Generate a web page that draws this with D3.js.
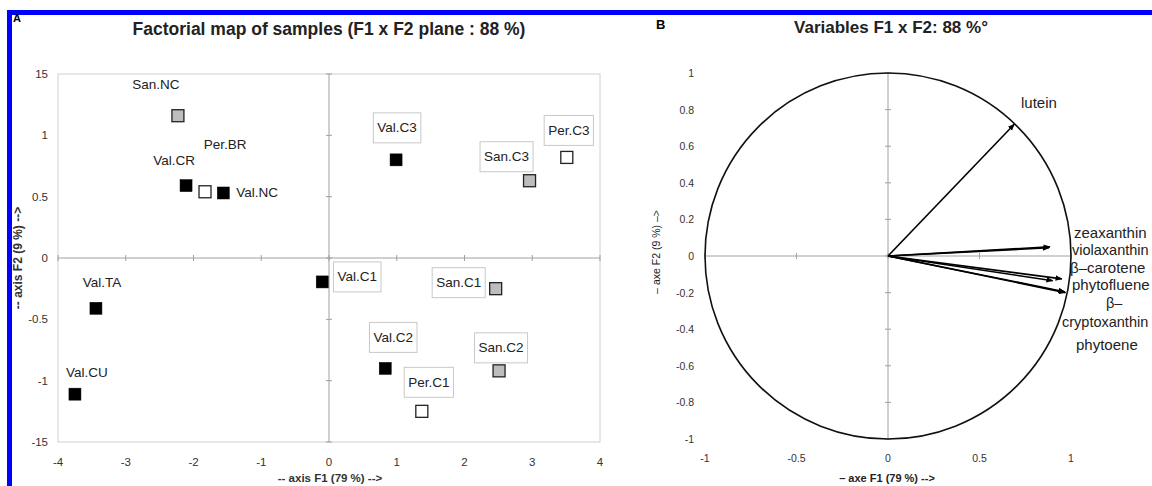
<!DOCTYPE html>
<html>
<head>
<meta charset="utf-8">
<script src="https://cdn.jsdelivr.net/npm/d3@7"></script>
<style>
  body { margin: 0; background: #fff; }
  svg { font-family: "Liberation Sans", Arial, sans-serif; }
</style>
</head>
<body>
<div id="chart"></div>
<script>
// ---- data: panel A (samples)
let sampleNames = ['San.NC', 'Val.CR', 'Per.BR', 'Val.NC', 'Val.C3', 'San.C3', 'Per.C3',
    'Val.C1', 'San.C1', 'Val.C2', 'San.C2', 'Per.C1', 'Val.TA', 'Val.CU'];
let sampleF1 = [-2.23, -2.11, -1.83, -1.56, 0.99, 2.96, 3.51, -0.10, 2.46, 0.83, 2.51, 1.37, -3.44, -3.75];
let sampleF2 = [1.16, 0.59, 0.54, 0.53, 0.80, 0.63, 0.82, -0.195, -0.25, -0.90, -0.92, -1.25, -0.41, -1.11];
let sampleGroup = ['San', 'Val', 'Per', 'Val', 'Val', 'San', 'Per', 'Val', 'San', 'Val', 'San', 'Per', 'Val', 'Val'];
let xTicksA = [-4, -3, -2, -1, 0, 1, 2, 3, 4];
let yTicksA = [1.5, 1, 0.5, 0, -0.5, -1, -1.5];
let yTickLabelsA = ['15', '1', '0.5', '0', '-0.5', '-1', '-15'];

// ---- data: panel B (variables)
let varNames = ['lutein', 'zeaxanthin', 'violaxanthin', '\u03b2\u2013carotene', 'phytofluene', '\u03b2\u2013cryptoxanthin', 'phytoene'];
let varF1 = [0.69, 0.885, 0.88, 0.95, 0.90, 0.965, 0.97];
let varF2 = [0.72, 0.05, 0.045, -0.125, -0.135, -0.195, -0.20];
let xTicksB = [-1, -0.5, 0, 0.5, 1];
let yTicksB = [1, 0.8, 0.6, 0.4, 0.2, 0, -0.2, -0.4, -0.6, -0.8, -1];

// layout: label placement relative to the marker (dx, dy of label centre, boxed or not)
let labelLayout = {
    'San.NC': [-22, -31, false], 'Val.CR': [-12, -25, false], 'Per.BR': [20, -47, false],
    'Val.NC': [13, 0, false, 'start'], 'Val.C3': [1, -32, true], 'San.C3': [-23, -24, true],
    'Per.C3': [2, -27, true], 'Val.C1': [35, -5, true], 'San.C1': [-37, -6, true],
    'Val.C2': [8, -31, true], 'San.C2': [2, -23, true], 'Per.C1': [7, -29, true],
    'Val.TA': [6, -26, false], 'Val.CU': [12, -22, false]
};
let groupFill = { Val: '#000', San: '#bdbdbd', Per: '#fff' };

let W = 1152, H = 486;
let svg = d3.select('#chart').append('svg').attr('width', W).attr('height', H);

// blue frame
svg.append('rect').attr('x', 7).attr('y', 10).attr('width', W - 7).attr('height', 5).attr('fill', '#0000ff');
svg.append('rect').attr('x', 7).attr('y', 10).attr('width', 5).attr('height', H - 10).attr('fill', '#0000ff');

// ================= Panel A =================
let xA = d3.scaleLinear().domain([-4, 4]).range([58, 600]);
let yA = d3.scaleLinear().domain([-1.5, 1.5]).range([442, 74]);

svg.append('text').attr('x', 13).attr('y', 22).attr('font-size', 11).attr('font-weight', 'bold').text('A');
svg.append('text').attr('x', 329).attr('y', 35).attr('text-anchor', 'middle')
    .attr('font-size', 17.5).attr('font-weight', 'bold').attr('fill', '#222')
    .text('Factorial map of samples (F1 x F2 plane : 88 %)');

svg.append('rect').attr('x', xA(-4)).attr('y', yA(1.5))
    .attr('width', xA(4) - xA(-4)).attr('height', yA(-1.5) - yA(1.5))
    .attr('fill', 'none').attr('stroke', '#d0d0d0');

// zero axes with tick marks
let gA = svg.append('g');
gA.append('line').attr('x1', xA(-4)).attr('x2', xA(4)).attr('y1', yA(0)).attr('y2', yA(0)).attr('stroke', '#a0a0a0');
gA.append('line').attr('x1', xA(0)).attr('x2', xA(0)).attr('y1', yA(1.5)).attr('y2', yA(-1.5)).attr('stroke', '#a0a0a0');
gA.selectAll('.xt').data(xTicksA).enter().append('line')
    .attr('x1', d => xA(d)).attr('x2', d => xA(d)).attr('y1', yA(0) - 3).attr('y2', yA(0) + 3).attr('stroke', '#a0a0a0');
gA.selectAll('.yt').data(yTicksA).enter().append('line')
    .attr('x1', xA(0) - 3).attr('x2', xA(0) + 3).attr('y1', d => yA(d)).attr('y2', d => yA(d)).attr('stroke', '#a0a0a0');

gA.selectAll('.xl').data(xTicksA).enter().append('text')
    .attr('x', d => xA(d)).attr('y', 466).attr('text-anchor', 'middle')
    .attr('font-size', 11.5).attr('fill', '#333').text(d => d);
gA.selectAll('.yl').data(yTicksA).enter().append('text')
    .attr('x', 48).attr('y', d => yA(d) + 4).attr('text-anchor', 'end')
    .attr('font-size', 11.5).attr('fill', '#333').text((d, i) => yTickLabelsA[i]);

svg.append('text').attr('x', 330).attr('y', 482).attr('text-anchor', 'middle')
    .attr('font-size', 11.5).attr('font-weight', 'bold').attr('fill', '#333').text('-- axis F1 (79 %) -->');
svg.append('text').attr('transform', 'translate(22,' + 258 + ') rotate(-90)').attr('text-anchor', 'middle')
    .attr('font-size', 12).attr('font-weight', 'bold').attr('fill', '#333').text('-- axis F2 (9 %) -->');

// markers
let samples = sampleNames.map((n, i) => ({ name: n, x: sampleF1[i], y: sampleF2[i], g: sampleGroup[i] }));
let ms = 12;
gA.selectAll('.pt').data(samples).enter().append('rect')
    .attr('x', d => xA(d.x) - ms / 2).attr('y', d => yA(d.y) - ms / 2)
    .attr('width', ms).attr('height', ms)
    .attr('fill', d => groupFill[d.g])
    .attr('stroke', d => d.g == 'Val' ? '#000' : '#222').attr('stroke-width', d => d.g == 'Val' ? 0.5 : 1.3);

// labels
samples.forEach(function(d) {
    let L = labelLayout[d.name];
    let cx = xA(d.x) + L[0], cy = yA(d.y) + L[1];
    let anchor = L[3] || 'middle';
    let t = gA.append('text').attr('x', cx).attr('y', cy + 4.5).attr('text-anchor', anchor)
        .attr('font-size', 13.5).attr('fill', '#222').text(d.name);
    if (L[2]) {
        let bb = t.node().getBBox();
        gA.insert('rect', 'text').attr('x', bb.x - 4).attr('y', cy - 15).attr('width', bb.width + 8).attr('height', 30)
            .attr('fill', '#fff').attr('stroke', '#c8c8c8');
    }
});

// ================= Panel B =================
let cxB = 888, cyB = 256, R = 183;
let xB = d3.scaleLinear().domain([-1, 1]).range([cxB - R, cxB + R]);
let yB = d3.scaleLinear().domain([-1, 1]).range([cyB + R, cyB - R]);
let gB = svg.append('g');

svg.append('text').attr('x', 656).attr('y', 29).attr('font-size', 13).attr('font-weight', 'bold').text('B');
svg.append('text').attr('x', 891).attr('y', 33).attr('text-anchor', 'middle')
    .attr('font-size', 17).attr('font-weight', 'bold').attr('fill', '#222').text('Variables F1 x F2: 88 %\u00b0');

gB.append('line').attr('x1', xB(-1)).attr('x2', xB(1)).attr('y1', yB(0)).attr('y2', yB(0)).attr('stroke', '#a0a0a0');
gB.append('line').attr('x1', xB(0)).attr('x2', xB(0)).attr('y1', yB(1)).attr('y2', yB(-1)).attr('stroke', '#a0a0a0');
gB.selectAll('.yt').data(yTicksB).enter().append('line')
    .attr('x1', xB(0) - 3).attr('x2', xB(0) + 3).attr('y1', d => yB(d)).attr('y2', d => yB(d)).attr('stroke', '#a0a0a0');
gB.selectAll('.xt').data(xTicksB).enter().append('line')
    .attr('x1', d => xB(d)).attr('x2', d => xB(d)).attr('y1', yB(0) - 3).attr('y2', yB(0) + 3).attr('stroke', '#a0a0a0');

gB.append('circle').attr('cx', xB(0)).attr('cy', yB(0)).attr('r', xB(1) - xB(0))
    .attr('fill', 'none').attr('stroke', '#111').attr('stroke-width', 1.6);

gB.selectAll('.xl').data(xTicksB).enter().append('text')
    .attr('x', d => xB(d)).attr('y', 462).attr('text-anchor', 'middle')
    .attr('font-size', 10.5).attr('fill', '#333').text(d => d);
gB.selectAll('.yl').data(yTicksB).enter().append('text')
    .attr('x', 694).attr('y', d => yB(d) + 4).attr('text-anchor', 'end')
    .attr('font-size', 10.5).attr('fill', '#333').text(d => d);

svg.append('text').attr('x', 887).attr('y', 482).attr('text-anchor', 'middle')
    .attr('font-size', 11).attr('font-weight', 'bold').attr('fill', '#222').text('\u2013 axe F1 (79 %) -->');
svg.append('text').attr('transform', 'translate(660,' + 252 + ') rotate(-90)').attr('text-anchor', 'middle')
    .attr('font-size', 10.5).attr('fill', '#222').text('\u2013 axe F2 (9 %) \u2013>');

// arrows
svg.append('defs').append('marker').attr('id', 'arr').attr('viewBox', '0 0 10 10')
    .attr('refX', 9).attr('refY', 5).attr('markerWidth', 7).attr('markerHeight', 7)
    .attr('markerUnits', 'userSpaceOnUse').attr('orient', 'auto')
    .append('path').attr('d', 'M0,1 L10,5 L0,9 Z').attr('fill', '#000');

let vars = varNames.map((n, i) => ({ name: n, x: varF1[i], y: varF2[i] }));
gB.selectAll('.arrow').data(vars).enter().append('line')
    .attr('x1', xB(0)).attr('y1', yB(0)).attr('x2', d => xB(d.x)).attr('y2', d => yB(d.y))
    .attr('stroke', '#000').attr('stroke-width', 1.6).attr('marker-end', 'url(#arr)');

// variable labels (to the right of the circle), shrunk if they would run off the page
function fitText(t, maxRight) {
    let size = 15;
    while (size > 9) {
        let bb = t.node().getBBox();
        if (bb.x + bb.width <= maxRight) break;
        size -= 0.5;
        t.attr('font-size', size);
    }
}
let varLabelPos = [[1021, 108, 'start'], [1074, 238, 'start'], [1072, 255, 'start'], [1070, 273, 'start'],
    [1072, 290, 'start'], [1062, 327, 'start'], [1076, 350, 'start']];
vars.forEach(function(d, i) {
    let p = varLabelPos[i];
    if (d.name == '\u03b2\u2013cryptoxanthin') {
        gB.append('text').attr('x', 1106).attr('y', p[1] - 19).attr('font-size', 14.5).attr('fill', '#222').text('\u03b2\u2013');
        let t = gB.append('text').attr('x', p[0]).attr('y', p[1]).attr('font-size', 15).attr('fill', '#222').text('cryptoxanthin');
        fitText(t, W - 2);
    } else {
        let t = gB.append('text').attr('x', p[0]).attr('y', p[1]).attr('text-anchor', p[2])
            .attr('font-size', 15).attr('fill', '#222').text(d.name);
        fitText(t, W - 2);
    }
});
</script>
</body>
</html>
